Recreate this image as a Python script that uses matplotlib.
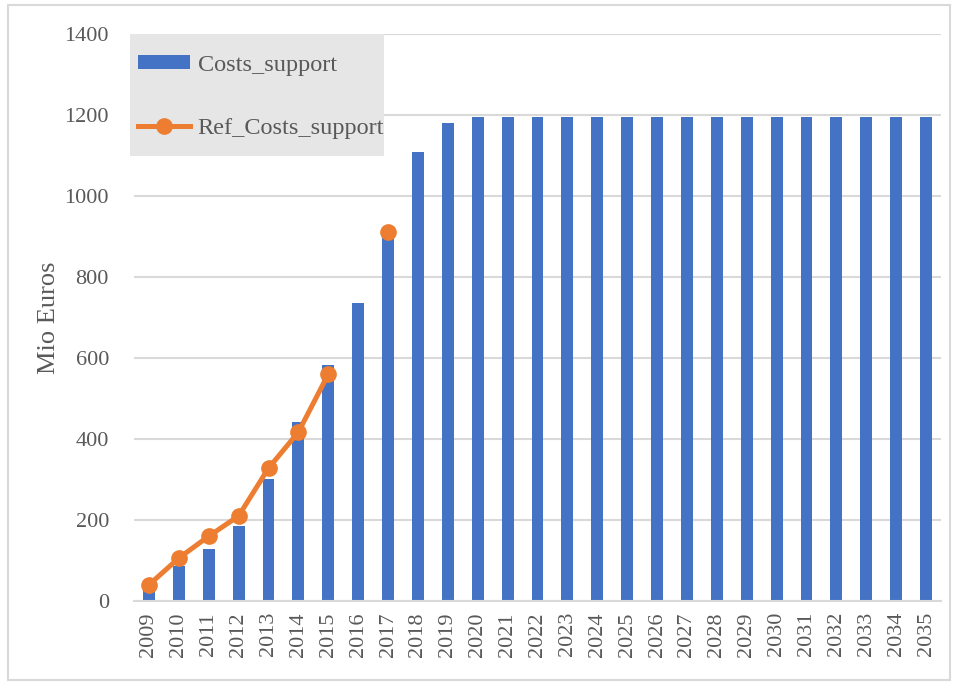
import numpy as np
import matplotlib.pyplot as plt
from matplotlib.patches import Rectangle

years = [str(y) for y in range(2009, 2036)]
costs_support = [30, 86, 128, 185, 301, 442, 582, 736, 906, 1108, 1180] + [1196] * 16
ref_costs_support = [40, 106, 160, 210, 328, 417, 560, np.nan, 911] + [np.nan] * 18
y_ticks = [0, 200, 400, 600, 800, 1000, 1200, 1400]

plt.rcParams['font.family'] = ['Liberation Serif', 'DejaVu Serif']
text_color = '#595959'

fig = plt.figure(figsize=(9.6, 6.85), dpi=100)
ax = fig.add_axes([134 / 960, 84 / 685, 807 / 960, 567 / 685])

x = np.arange(len(years))
bars = ax.bar(x, costs_support, width=0.4, color='#4472C4', label='Costs_support', zorder=2)
line, = ax.plot(x, ref_costs_support, color='#ED7D31', lw=3.6, marker='o', ms=11,
                label='Ref_Costs_support', zorder=3)

ax.set_xlim(-0.5, len(years) - 0.5)
ax.set_ylim(0, 1400)
ax.set_yticks(y_ticks)
ax.set_xticks(x)
ax.set_xticklabels(years, rotation=90)
ax.tick_params(axis='both', length=0, labelsize=16, colors=text_color)
ax.tick_params(axis='y', pad=18)
ax.tick_params(axis='x', pad=8)
ax.grid(axis='y', color='#d9d9d9', lw=1.5, zorder=0)
ax.set_axisbelow(True)
for side in ['top', 'right', 'left']:
    ax.spines[side].set_visible(False)
ax.spines['bottom'].set_color('#d9d9d9')
ax.spines['bottom'].set_linewidth(1.5)

ax.set_ylabel('Mio Euros', fontsize=19, color=text_color)
ax.yaxis.set_label_coords(-0.092, 0.5)

# grey legend background
ax.add_patch(Rectangle((-4 / 807, 445 / 567), 254 / 807, 122 / 567,
                       transform=ax.transAxes, facecolor='#e6e6e6',
                       edgecolor='none', zorder=4, clip_on=False))

leg = ax.legend(handles=[bars, line], loc='upper left',
                bbox_to_anchor=(4 / 807, 546 / 567), fontsize=17.5,
                frameon=False, handlelength=2.15, handleheight=0.5,
                labelspacing=1.72, borderpad=0, handletextpad=0.3,
                borderaxespad=0)
leg.set_zorder(5)
for t in leg.get_texts():
    t.set_color(text_color)

fig.patches.append(Rectangle((8 / 960, 5 / 685), 942 / 960, 675 / 685,
                             transform=fig.transFigure, fill=False,
                             edgecolor='#d9d9d9', lw=1.5))

fig.savefig('out.png', dpi=100)
